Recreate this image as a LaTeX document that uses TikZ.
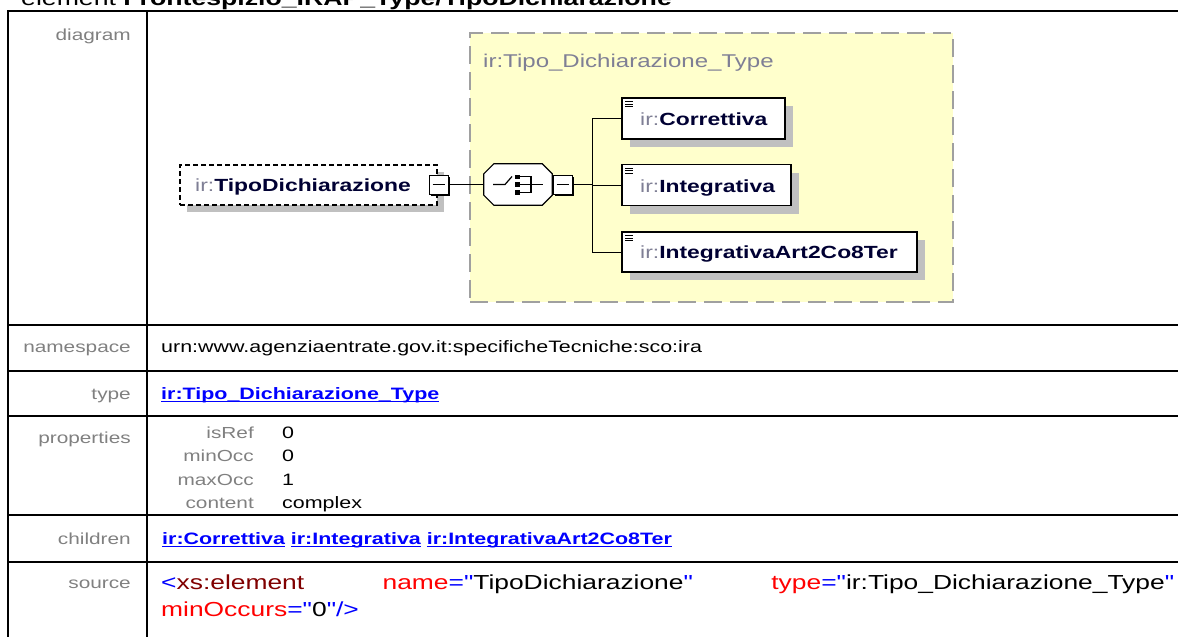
\documentclass[tikz,border=0pt]{standalone}
\usepackage{fontspec}
\setmainfont{Liberation Sans}[FakeStretch=1.3,Ligatures=TeXOff]
\usetikzlibrary{shadows}
\definecolor{lblgray}{HTML}{808080}
\definecolor{irgray}{HTML}{7F7F95}
\definecolor{navy}{HTML}{000033}
\definecolor{ctfill}{HTML}{FFFFCC}
\definecolor{ctborder}{HTML}{A0A0A0}
\definecolor{shgray}{HTML}{C0C0C0}
\definecolor{lnk}{HTML}{0000FF}
\definecolor{tagred}{HTML}{800000}
\definecolor{attred}{HTML}{FF0000}
\newcommand\fs[1]{\fontsize{#1}{#1}\selectfont}
\newcommand\ename[1]{{\color{irgray}ir:}{\color{navy}\bfseries#1}}
\newcommand\ulink[1]{\setbox0=\hbox{#1}\rlap{\vrule height -1.8pt depth 3.2pt width \wd0}\box0}
\newcommand\lk[1]{{\color{lnk}\bfseries\ulink{#1}}}
\begin{document}
\begin{tikzpicture}[x=1pt,y=-1pt,
  grid/.style={line width=2pt,black},
  lbl/.style={anchor=base east,inner sep=0,text=lblgray,font=\fs{16}},
  val/.style={anchor=base west,inner sep=0,font=\fs{16.5}},
  etext/.style={anchor=base west,inner sep=0,font=\fs{17.6}},
  ctbox/.style={draw=ctborder,fill=ctfill,line width=1.5pt,dash pattern=on 18pt off 8pt,inner sep=0},
  optbox/.style={draw=black,fill=white,line width=1.2pt,dash pattern=on 5pt off 3pt,inner sep=0,
     drop shadow={shadow xshift=7pt,shadow yshift=-7pt,opacity=1,fill=shgray}},
  elbox/.style={draw=black,fill=white,line width=1.2pt,inner sep=0,
     drop shadow={shadow xshift=8pt,shadow yshift=-8pt,opacity=1,fill=shgray}},
  minusbox/.style={draw=black,fill=white,line width=1pt,inner sep=0,minimum width=19pt,minimum height=19pt,
     drop shadow={shadow xshift=2pt,shadow yshift=-2pt,opacity=1,fill=black}},
  conn/.style={line width=1pt,black},
]
\useasboundingbox (0,0) rectangle (1178,637);
% title (cut at top as in the reference)
\node[anchor=base west,inner sep=0,font=\fs{20.5}] (title) at (21,5.5) {element \textbf{Frontespizio\_IRAP\_Type/TipoDichiarazione}};
% table grid
\draw[grid] (7,11) -- (1180,11);
\draw[grid] (7,325) -- (1180,325);
\draw[grid] (7,371) -- (1180,371);
\draw[grid] (7,416) -- (1180,416);
\draw[grid] (7,515) -- (1180,515);
\draw[grid] (7,562) -- (1180,562);
\draw[grid] (8,10) -- (8,640);
\draw[grid] (147,10) -- (147,640);
% labels
\node[lbl] (ldiag) at (131,40) {diagram};
\node[lbl] (lns) at (131,352) {namespace};
\node[lbl] (ltype) at (131,399) {type};
\node[lbl] (lprop) at (131,443) {properties};
\node[lbl] (lchild) at (131,544) {children};
\node[lbl] (lsrc) at (131,588) {source};
% values
\node[val] (vns) at (161,352) {urn:www.agenziaentrate.gov.it:specificheTecniche:sco:ira};
\node[val] (vtype) at (161,399) {\lk{ir:Tipo\_Dichiarazione\_Type}};
\node[lbl] (pk1) at (254,438) {isRef};
\node[lbl] (pk2) at (254,461.5) {minOcc};
\node[lbl] (pk3) at (254,485) {maxOcc};
\node[lbl] (pk4) at (254,508.5) {content};
\node[val] (pv1) at (282,438) {0};
\node[val] (pv2) at (282,461.5) {0};
\node[val] (pv3) at (282,485) {1};
\node[val] (pv4) at (282,508.5) {complex};
\node[val] (vchild) at (162,544) {\lk{ir:Correttiva} \lk{ir:Integrativa} \lk{ir:IntegrativaArt2Co8Ter}};
\node[val,font=\fs{20.3}] (src1) at (161,589) {\hbox to 1013pt{{\color{lnk}<}{\color{tagred}xs:element}\hfill{\color{attred}name}{\color{lnk}="}TipoDichiarazione{\color{lnk}"}\hfill{\color{attred}type}{\color{lnk}="}ir:Tipo\_Dichiarazione\_Type{\color{lnk}"}}};
\node[val,font=\fs{20.3}] (src2) at (161,616) {{\color{attred}minOccurs}{\color{lnk}="}0{\color{lnk}"/>}};
% diagram: complex type container
\node[ctbox,minimum width=483pt,minimum height=269pt] (ct) at (711.5,167.5) {};
\node[anchor=base west,inner sep=0,font=\fs{18.5},text=irgray] (ctlbl) at (483,67) {ir:Tipo\_Dichiarazione\_Type};
% element TipoDichiarazione
\node[optbox,minimum width=257pt,minimum height=40pt] (tipo) at (308.5,185) {};
\node[etext] (tipoT) at (195,191) {\ename{TipoDichiarazione}};
\node[minusbox] (m1) at (438.5,184.5) {};
\draw[line width=1.2pt] ([xshift=4pt]m1.west) -- ([xshift=-4pt]m1.east);
% sequence compositor
\node[minimum width=68pt,minimum height=41pt,inner sep=0] (seq) at (518,184.5) {};
\fill[shgray,shift={(8,8)}] ([xshift=10pt]seq.north west) -- ([xshift=-10pt]seq.north east) -- ([yshift=-10pt]seq.north east) -- ([yshift=10pt]seq.south east) -- ([xshift=-10pt]seq.south east) -- ([xshift=10pt]seq.south west) -- ([yshift=10pt]seq.south west) -- ([yshift=-10pt]seq.north west) -- cycle;
\draw[fill=white,line width=1.2pt] ([xshift=10pt]seq.north west) -- ([xshift=-10pt]seq.north east) -- ([yshift=-10pt]seq.north east) -- ([yshift=10pt]seq.south east) -- ([xshift=-10pt]seq.south east) -- ([xshift=10pt]seq.south west) -- ([yshift=10pt]seq.south west) -- ([yshift=-10pt]seq.north west) -- cycle;
\draw[line width=1.2pt] (493,184.5) -- (505,184.5) -- (512,176.5);
\fill (515,174.5) rectangle (520,179);
\fill (515,182.2) rectangle (520,186.8);
\fill (515,190) rectangle (520,194.5);
\draw[line width=1.2pt] (520,176.8) -- (531,176.8) -- (531,192.2) -- (520,192.2);
\draw[line width=1.2pt] (520,184.5) -- (543,184.5);
\node[minusbox] (m2) at (562.5,184.5) {};
\draw[line width=1.2pt] ([xshift=4pt]m2.west) -- ([xshift=-4pt]m2.east);
% children
\node[elbox,minimum width=163pt,minimum height=41pt] (cor) at (703.5,118.5) {};
\node[elbox,minimum width=169pt,minimum height=41pt] (int) at (706.5,185) {};
\node[elbox,minimum width=295pt,minimum height=40pt] (art) at (769.5,252) {};
\foreach \n in {cor,int,art}{
  \draw[line width=0.9pt] ([shift={(4,4.5)}]\n.north west) -- ++(7.5,0);
  \draw[line width=0.9pt] ([shift={(4,7)}]\n.north west) -- ++(7.5,0);
  \draw[line width=0.9pt] ([shift={(4,9.5)}]\n.north west) -- ++(7.5,0);
}
\node[etext] (corT) at (640,125.5) {\ename{Correttiva}};
\node[etext] (intT) at (640,192.5) {\ename{Integrativa}};
\node[etext] (artT) at (640,258.5) {\ename{IntegrativaArt2Co8Ter}};
% connectors
\coordinate (fork) at (592,184.5);
\draw[conn] (m1.east) -- (seq.west);
\draw[conn] (m2.east) -- (fork);
\draw[conn] (fork |- cor.west) -- (fork |- art.west);
\draw[conn] (fork |- cor.west) -- (cor.west);
\draw[conn] (fork |- int.west) -- (int.west);
\draw[conn] (fork |- art.west) -- (art.west);
\end{tikzpicture}
\end{document}
